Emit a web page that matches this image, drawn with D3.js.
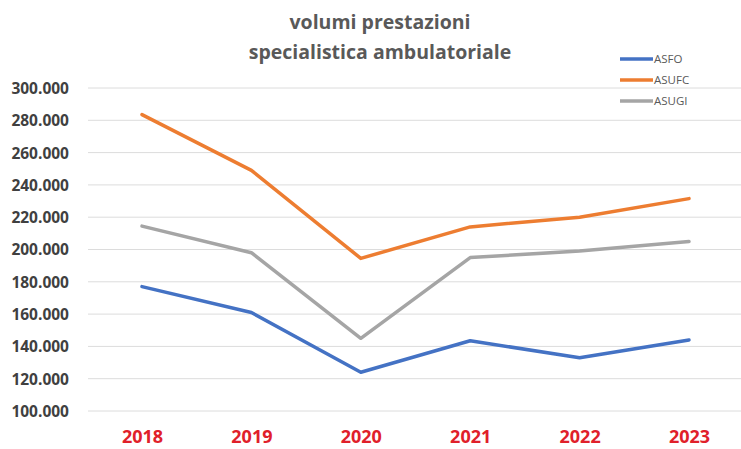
<!DOCTYPE html>
<html><head><meta charset="utf-8">
<script src="https://cdn.jsdelivr.net/npm/d3@7"></script>
<style>html,body{margin:0;padding:0;background:#fff;}</style>
</head><body>
<script>
const years = ["2018","2019","2020","2021","2022","2023"];
const asfo  = [177000, 161000, 124000, 143500, 133000, 144000];
const asufc = [283500, 249000, 194500, 214000, 220000, 231500];
const asugi = [214500, 198000, 145000, 195000, 199000, 205000];
const yTicks = [100000,120000,140000,160000,180000,200000,220000,240000,260000,280000,300000];
const seriesNames = ["ASFO","ASUFC","ASUGI"];
const seriesColors = ["#4472C4","#ED7D31","#A5A5A5"];
const seriesData = [asfo, asufc, asugi];

const W = 741, H = 449;
const svg = d3.select("body").append("svg").attr("width", W).attr("height", H)
  .style("font-family", "'Open Sans', 'Noto Sans', sans-serif");

const x = d3.scalePoint().domain(years).range([142, 689]);
const y = d3.scaleLinear().domain([100000, 300000]).range([411, 88]);

// gridlines
svg.append("g").selectAll("line").data(yTicks).join("line")
  .attr("x1", 88).attr("x2", 741)
  .attr("y1", d => y(d)).attr("y2", d => y(d))
  .attr("stroke", "#dcdcdc").attr("stroke-width", 1);

// y axis labels
const fmt = d => d3.format(",")(d).replace(/,/g, ".");
const yAxis = d3.axisLeft(y).tickValues(yTicks).tickFormat(fmt).tickSize(0).tickPadding(0);
const ya = svg.append("g").attr("transform", "translate(69,0)").call(yAxis);
ya.select(".domain").remove();
ya.selectAll("text").attr("fill", "#404040").attr("font-size", 15.5).attr("font-weight", "bold")
  .attr("font-family", "'Open Sans', sans-serif").attr("dy", "0.35em");

// x axis labels
const xAxis = d3.axisBottom(x).tickSize(0).tickPadding(0);
const xa = svg.append("g").attr("transform", "translate(0,430)").call(xAxis);
xa.select(".domain").remove();
xa.selectAll("text").attr("fill", "#e0202a").attr("font-size", 18).attr("font-weight", "bold")
  .attr("font-family", "'Open Sans', sans-serif").attr("dy", "0.71em");

// lines
const line = d3.line().x((d, i) => x(years[i])).y(d => y(d));
seriesData.forEach((s, k) => {
  svg.append("path").datum(s).attr("d", line)
    .attr("fill", "none").attr("stroke", seriesColors[k]).attr("stroke-width", 3.5)
    .attr("stroke-linejoin", "round").attr("stroke-linecap", "round");
});

// title
const title = svg.append("text").attr("x", 380).attr("text-anchor", "middle")
  .attr("fill", "#595959").attr("font-size", 19.5).attr("font-weight", "bold")
  .attr("font-family", "'Open Sans', sans-serif");
title.append("tspan").attr("x", 380).attr("y", 29).text("volumi prestazioni");
title.append("tspan").attr("x", 380).attr("y", 59).text("specialistica ambulatoriale");

// legend
const lg = svg.append("g");
seriesNames.forEach((n, k) => {
  const yy = 59 + k * 21;
  lg.append("line").attr("x1", 620).attr("x2", 653).attr("y1", yy).attr("y2", yy)
    .attr("stroke", seriesColors[k]).attr("stroke-width", 3.5);
  lg.append("text").attr("x", 654).attr("y", yy).attr("dy", "0.35em")
    .attr("fill", "#595959").attr("font-size", 11.5).attr("font-family", "'Open Sans', sans-serif")
    .text(n);
});
</script>
</body></html>
